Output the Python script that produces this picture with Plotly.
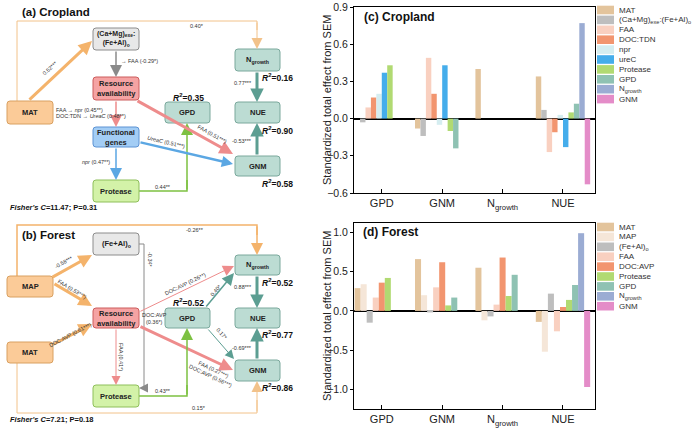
import math
import plotly.graph_objects as go

# ---------------- bar chart data ----------------
groups = ["GPD", "GNM", "N<sub>growth</sub>", "NUE"]

# (c) Cropland: standardized total effects per predictor
crop_mat = [None, -0.08, 0.40, 0.34]
crop_camg = [-0.03, -0.14, None, 0.07]
crop_faa = [0.09, 0.49, None, -0.27]
crop_doc_tdn = [0.17, 0.20, None, -0.11]
crop_npr = [0.20, -0.05, None, 0.03]
crop_urec = [0.37, 0.43, None, -0.23]
crop_protease = [0.43, -0.10, None, 0.05]
crop_gpd = [None, -0.24, None, 0.12]
crop_ngrowth = [None, None, None, 0.77]
crop_gnm = [None, None, None, -0.53]

# (d) Forest
forest_mat = [0.29, 0.66, 0.55, -0.14]
forest_map = [0.34, 0.20, -0.12, -0.52]
forest_feal = [-0.15, -0.02, -0.07, 0.22]
forest_faa = [0.17, 0.30, 0.08, -0.26]
forest_doc_avp = [0.36, 0.62, 0.68, 0.05]
forest_protease = [0.42, 0.07, 0.19, 0.14]
forest_gpd = [None, 0.17, 0.46, 0.33]
forest_ngrowth = [None, None, None, 0.99]
forest_gnm = [None, None, None, -0.97]

C = dict(
    mat="#E3C49C", camg="#BEBEBE", faa="#F9D0C0", doc="#F2956F", npr="#D5EDF0",
    urec="#45ADEB", prot="#B1DA72", gpd="#8FC2B3", ngr="#9BACD3", gnm="#E48CC8",
    map="#F5E6D8",
)

crop_series = [
    ("MAT", crop_mat, C["mat"]),
    ("(Ca+Mg)<sub>exe</sub>:(Fe+Al)<sub>o</sub>", crop_camg, C["camg"]),
    ("FAA", crop_faa, C["faa"]),
    ("DOC:TDN", crop_doc_tdn, C["doc"]),
    ("npr", crop_npr, C["npr"]),
    ("ureC", crop_urec, C["urec"]),
    ("Protease", crop_protease, C["prot"]),
    ("GPD", crop_gpd, C["gpd"]),
    ("N<sub>growth</sub>", crop_ngrowth, C["ngr"]),
    ("GNM", crop_gnm, C["gnm"]),
]
forest_series = [
    ("MAT", forest_mat, C["mat"]),
    ("MAP", forest_map, C["map"]),
    ("(Fe+Al)<sub>o</sub>", forest_feal, C["camg"]),
    ("FAA", forest_faa, C["faa"]),
    ("DOC:AVP", forest_doc_avp, C["doc"]),
    ("Protease", forest_protease, C["prot"]),
    ("GPD", forest_gpd, C["gpd"]),
    ("N<sub>growth</sub>", forest_ngrowth, C["ngr"]),
    ("GNM", forest_gnm, C["gnm"]),
]

W, H = 700, 432
FONT = "Arial"

fig = go.Figure()
for name, vals, col in crop_series:
    fig.add_trace(go.Bar(x=groups, y=vals, name=name, marker_color=col,
                         marker_line_width=0, showlegend=False, xaxis="x", yaxis="y"))
for name, vals, col in forest_series:
    fig.add_trace(go.Bar(x=groups, y=vals, name=name, marker_color=col,
                         marker_line_width=0, showlegend=False, xaxis="x2", yaxis="y2"))
# empty trace so the pixel "canvas" axes exist
fig.add_trace(go.Scatter(x=[None], y=[None], xaxis="x3", yaxis="y3",
                         showlegend=False, hoverinfo="skip"))

shapes = []
annots = []


def ydom(top, bottom):
    return [1 - bottom / H, 1 - top / H]


def rbox(x0, y0, x1, y1, fill, line, label, size=7.5):
    r = 3
    p = (f"M{x0+r},{y0} L{x1-r},{y0} Q{x1},{y0} {x1},{y0+r} L{x1},{y1-r} "
         f"Q{x1},{y1} {x1-r},{y1} L{x0+r},{y1} Q{x0},{y1} {x0},{y1-r} "
         f"L{x0},{y0+r} Q{x0},{y0} {x0+r},{y0} Z")
    shapes.append(dict(type="path", path=p, xref="x3", yref="y3", fillcolor=fill,
                       line=dict(color=line, width=1), layer="above"))
    annots.append(dict(x=(x0 + x1) / 2, y=(y0 + y1) / 2, xref="x3", yref="y3",
                       text=f"<b>{label}</b>", showarrow=False,
                       font=dict(family=FONT, size=size, color="#222")))


def poly(pts, color, width=1):
    p = "M" + " L".join(f"{x},{y}" for x, y in pts)
    shapes.append(dict(type="path", path=p, xref="x3", yref="y3",
                       fillcolor="rgba(0,0,0,0)", line=dict(color=color, width=width),
                       layer="above"))


def arrow(x0, y0, x1, y1, color, width=1, size=None):
    if size is None:
        size = 0.9 if width >= 2.5 else 2.2
    annots.append(dict(x=x1, y=y1, ax=x0, ay=y0, xref="x3", yref="y3",
                       axref="x3", ayref="y3", text="", showarrow=True,
                       arrowhead=2, arrowsize=size, arrowwidth=width,
                       arrowcolor=color, standoff=0))


def label(x, y, text, size=5.5, angle=0, xanchor="center", color="#333"):
    annots.append(dict(x=x, y=y, xref="x3", yref="y3", text=text, showarrow=False,
                       textangle=angle, xanchor=xanchor, yanchor="middle",
                       font=dict(family=FONT, size=size, color=color)))


def ang(x0, y0, x1, y1):
    return math.degrees(math.atan2(y1 - y0, x1 - x0))


def r2(x, y, v):
    label(x, y, f"<b><i>R</i><sup>2</sup>=%s</b>" % v, size=8.5, color="#111")


ORN = ("#FBCB98", "#D9A060")
GRY = ("#E8E8E8", "#8C8C8C")
RED = ("#F5A3A3", "#CC5C5C")
BLU = ("#A3CDF5", "#5C93D4")
GRN = ("#D3F2A8", "#8EBF5A")
TEA = ("#BCDCD3", "#7AA89C")

A_ORN, A_ORN_T = "#F4B36B", "#F2C28A"
A_GRY = "#8A8A8A"
A_RED = "#EE8C8C"
A_BLU = "#5BA7E3"
A_GRN = "#7DC142"
A_TEA = "#5C9E92"

# ---------------- (a) Cropland diagram ----------------
label(20, 12, "<b>(a) Cropland</b>", size=11.5, xanchor="left", color="#111")

poly([(17, 101), (17, 21), (257, 21), (257, 30)], A_ORN_T, 1)
arrow(257, 21, 257, 49, A_ORN_T, 1)
label(197, 26, "0.40*")

arrow(28, 101, 92, 41, A_ORN, 3)
label(50, 68, "0.52***", angle=ang(28, 101, 92, 41))

arrow(116, 50, 116, 77, A_GRY, 1.5, 1.6)
label(119, 61, "\u2192 FAA (-0.29*)", xanchor="left")

arrow(116, 100, 116, 127, A_RED, 1.5, 1.6)
label(54, 110, "FAA \u2192 <i>npr</i> (0.45**)", xanchor="left")
label(54, 116, "DOC:TDN \u2192 <i>UreaC</i> (0.48**)", xanchor="left")

arrow(116, 147, 116, 180, A_BLU, 1.5, 1.6)
label(112, 162, "<i>npr</i> (0.47**)", xanchor="right")

poly([(139, 191), (187, 191), (187, 180)], A_GRN, 1.5)
arrow(187, 191, 187, 123, A_GRN, 1.5, 1.6)
label(163, 187, "0.44**")

arrow(136, 100, 233, 154, A_RED, 3)
label(212, 134, "FAA (0.51***)", angle=ang(136, 100, 233, 154))

arrow(139, 142, 233, 164, A_BLU, 2.5)
label(166, 142, "<i>UreaC</i> (0.51***)", angle=ang(139, 142, 233, 164))

arrow(257, 71, 257, 102, A_TEA, 3)
label(254, 83, "0.77***", xanchor="right")
arrow(257, 156, 257, 123, A_TEA, 3)
label(254, 141, "-0.53***", xanchor="right")

rbox(93, 28, 139, 50, *GRY, "(Ca+Mg)<sub>exe</sub>:<br>(Fe+Al)<sub>o</sub>", 7)
rbox(7, 101, 53, 124, *ORN, "MAT")
rbox(93, 77, 139, 100, *RED, "Resource<br>availability")
rbox(93, 127, 139, 147, *BLU, "Functional<br>genes")
rbox(93, 180, 139, 202, *GRN, "Protease")
rbox(165, 102, 210, 123, *TEA, "GPD")
rbox(235, 49, 280, 71, *TEA, "N<sub>growth</sub>")
rbox(235, 102, 280, 123, *TEA, "NUE")
rbox(235, 156, 280, 176, *TEA, "GNM")

r2(188, 97, "0.35")
r2(277, 77, "0.16")
r2(277, 130, "0.90")
r2(277, 183, "0.58")
label(8, 207, "<b><i>Fisher's C</i>=11.47; P=0.31</b>", size=7.5, xanchor="left", color="#111")

# ---------------- (b) Forest diagram ----------------
label(20, 235, "<b>(b) Forest</b>", size=11.5, xanchor="left", color="#111")

poly([(17, 276), (17, 225), (257, 225), (257, 235)], A_ORN, 1.5)
arrow(257, 225, 257, 255, A_ORN, 1.5, 1.6)
label(195, 230, "-0.26**")

arrow(51, 278, 92, 255, A_ORN, 3)
label(64, 262, "-0.58***", angle=ang(51, 278, 92, 255))
arrow(53, 283, 92, 306, A_ORN, 3)
label(72, 289, "FAA (0.53***)", angle=ang(53, 283, 92, 306))

poly([(139, 244), (144, 244), (144, 388)], A_GRY, 1)
arrow(144, 388, 139, 388, A_GRY, 1, 1.8)
label(150, 260, "-0.34*", angle=90)

arrow(139, 312, 234, 266, A_RED, 1)
label(185, 284, "DOC:AVP (0.26**)", angle=ang(139, 312, 234, 266))
label(140, 318, "DOC:AVP<br>(0.36*)", xanchor="left")

arrow(205, 308, 234, 273, A_TEA, 1.5, 1.6)
label(216, 290, "0.40*", angle=ang(205, 308, 234, 273))

arrow(207, 328, 234, 359, A_TEA, 1, 1.8)
label(222, 334, "0.17*", angle=ang(207, 328, 234, 359))

arrow(139, 326, 233, 370, A_RED, 3)
label(212, 372, "FAA (0.27***)<br>DOC:AVP (0.56***)", angle=ang(139, 326, 233, 370))

arrow(116, 328, 116, 385, A_RED, 1, 1.8)
label(121, 357, "FAA (0.41*)", angle=90)

arrow(52, 345, 92, 324, A_ORN, 3)
label(70, 335, "DOC:AVP (0.61***)", angle=ang(52, 345, 92, 324))

poly([(17, 363), (17, 413), (257, 413), (257, 400)], A_ORN_T, 1)
arrow(257, 413, 257, 381, A_ORN_T, 1)
label(199, 408, "0.15*")

poly([(139, 396), (187, 396), (187, 385)], A_GRN, 1.5)
arrow(187, 396, 187, 328, A_GRN, 1.5, 1.6)
label(163, 391, "0.43**")

arrow(257, 275, 257, 308, A_TEA, 3)
label(254, 287, "0.88***", xanchor="right")
arrow(257, 360, 257, 328, A_TEA, 3)
label(254, 348, "-0.69***", xanchor="right")

rbox(93, 233, 139, 255, *GRY, "(Fe+Al)<sub>o</sub>")
rbox(7, 276, 53, 297, *ORN, "MAP")
rbox(93, 308, 139, 328, *RED, "Resource<br>availability")
rbox(165, 308, 210, 328, *TEA, "GPD")
rbox(235, 255, 280, 275, *TEA, "N<sub>growth</sub>")
rbox(235, 308, 280, 328, *TEA, "NUE")
rbox(235, 360, 280, 381, *TEA, "GNM")
rbox(7, 342, 53, 363, *ORN, "MAT")
rbox(93, 385, 139, 407, *GRN, "Protease")

r2(188, 302, "0.52")
r2(277, 282, "0.52")
r2(277, 334, "0.77")
r2(277, 387, "0.86")
label(8, 419, "<b><i>Fisher's C</i>=7.21; P=0.18</b>", size=7.5, xanchor="left", color="#111")

# ---------------- bar panels: labels and legends ----------------
label(362, 17, "<b>(c) Cropland</b>", size=12, xanchor="left", color="#111")
label(361, 232, "<b>(d) Forest</b>", size=12, xanchor="left", color="#111")
label(327, 100, "Standardized total effect from SEM", size=11, angle=-90, color="#222")
label(327, 316, "Standardized total effect from SEM", size=11, angle=-90, color="#222")


def legend(series, y0, step=9.9):
    for i, (name, _, col) in enumerate(series):
        yc = y0 + i * step
        shapes.append(dict(type="rect", xref="x3", yref="y3", x0=597, x1=614,
                           y0=yc - 4.3, y1=yc + 4.3, fillcolor=col,
                           line=dict(width=0), layer="above"))
        label(617, yc, name, size=8, xanchor="left", color="#333")


legend(crop_series, 10)
legend(forest_series, 227)

xa = dict(type="category", range=[-0.46, 3.53], showline=True, mirror=True,
          linecolor="black", linewidth=1, ticks="inside", ticklen=4,
          tickcolor="black", showgrid=False, zeroline=False,
          tickfont=dict(family=FONT, size=11, color="#222"), fixedrange=True)
ya = dict(showline=True, mirror=True, linecolor="black", linewidth=1,
          ticks="outside", ticklen=3, tickcolor="black", showgrid=False,
          zeroline=True, zerolinecolor="black", zerolinewidth=1.5,
          tickformat=".1f", tickfont=dict(family=FONT, size=10.5, color="#222"),
          fixedrange=True)

fig.update_layout(
    width=W, height=H,
    margin=dict(l=0, r=0, t=0, b=0),
    paper_bgcolor="white", plot_bgcolor="rgba(0,0,0,0)",
    template="none",
    barmode="group", bargap=0.1, bargroupgap=0,
    xaxis=dict(xa, domain=[354 / W, 595 / W], anchor="y"),
    yaxis=dict(ya, domain=ydom(7, 193), range=[-0.6, 0.9], dtick=0.3, anchor="x"),
    xaxis2=dict(xa, domain=[354 / W, 595 / W], anchor="y2"),
    yaxis2=dict(ya, domain=ydom(223, 409), range=[-1.25, 1.12], dtick=0.5, anchor="x2"),
    xaxis3=dict(domain=[0, 1], range=[0, W], visible=False, anchor="y3", fixedrange=True),
    yaxis3=dict(domain=[0, 1], range=[H, 0], visible=False, anchor="x3", fixedrange=True),
    shapes=shapes,
    annotations=annots,
    showlegend=False,
)

fig.write_html("out.html", config={"displayModeBar": False},
               post_script="document.body.style.margin='0';")
